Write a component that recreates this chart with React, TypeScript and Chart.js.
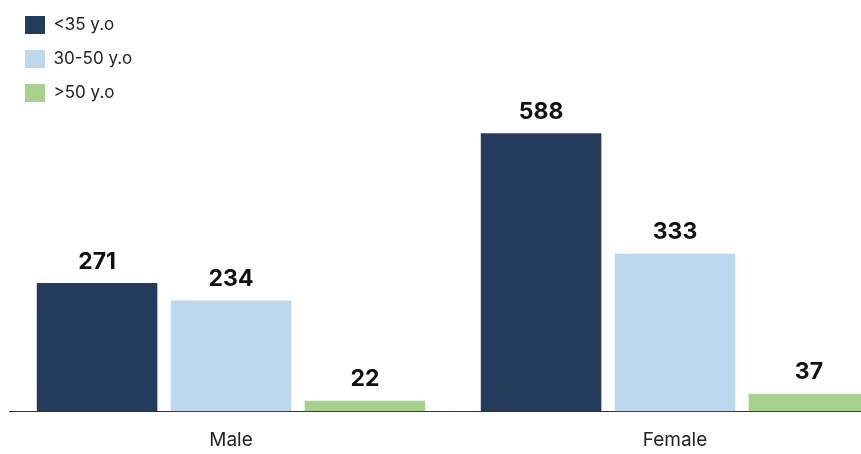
import React, { useEffect, useRef } from "react";
import { Chart, registerables } from "chart.js";

Chart.register(...registerables);

const categories = ["Male", "Female"];
const seriesNames = ["<35 y.o", "30-50 y.o", ">50 y.o"];
const under35 = [271, 588];
const from30to50 = [234, 333];
const over50 = [22, 37];
const colors = ["#253b5c", "#bdd7ec", "#a9d18e"];

const valueLabels = {
  id: "valueLabels",
  afterDatasetsDraw(chart: any) {
    const ctx = chart.ctx;
    ctx.save();
    ctx.font = "700 23px Inter, 'Open Sans', sans-serif";
    ctx.fillStyle = "#111";
    ctx.textAlign = "center";
    ctx.textBaseline = "bottom";
    chart.data.datasets.forEach((ds: any, i: number) => {
      const meta = chart.getDatasetMeta(i);
      meta.data.forEach((bar: any, j: number) => {
        ctx.fillText(String(ds.data[j]), bar.x, bar.y - 10);
      });
    });
    ctx.restore();
  },
};

export default function App() {
  const ref = useRef<HTMLCanvasElement>(null);
  useEffect(() => {
    const seriesData = [under35, from30to50, over50];
    const chart = new Chart(ref.current!, {
      type: "bar",
      data: {
        labels: categories,
        datasets: seriesNames.map((name, i) => ({
          label: name,
          data: seriesData[i],
          backgroundColor: colors[i],
          barPercentage: 0.9,
          categoryPercentage: 0.905,
        })),
      },
      options: {
        animation: false,
        responsive: true,
        maintainAspectRatio: false,
        layout: { padding: { left: 9, right: 0, top: 0, bottom: 6 } },
        plugins: {
          tooltip: { enabled: false },
          legend: {
            position: "chartArea" as any,
            align: "start",
            labels: {
              boxWidth: 20,
              boxHeight: 18,
              padding: 16,
              color: "#222",
              font: { family: "Inter, 'Open Sans', sans-serif", size: 17 },
            },
          },
        },
        scales: {
          x: {
            grid: { display: false, drawTicks: false },
            border: { display: true, color: "#333", width: 1 },
            ticks: {
              padding: 18,
              color: "#222",
              font: { family: "Inter, 'Open Sans', sans-serif", size: 19 },
            },
          },
          y: {
            display: false,
            min: 0,
            max: 870,
          },
        },
      },
      plugins: [valueLabels],
    });
    return () => chart.destroy();
  }, []);
  return (
    <div style={{ position: "fixed", left: 0, top: 0, width: 897, height: 476, background: "#fff" }}>
      <canvas ref={ref} />
    </div>
  );
}
